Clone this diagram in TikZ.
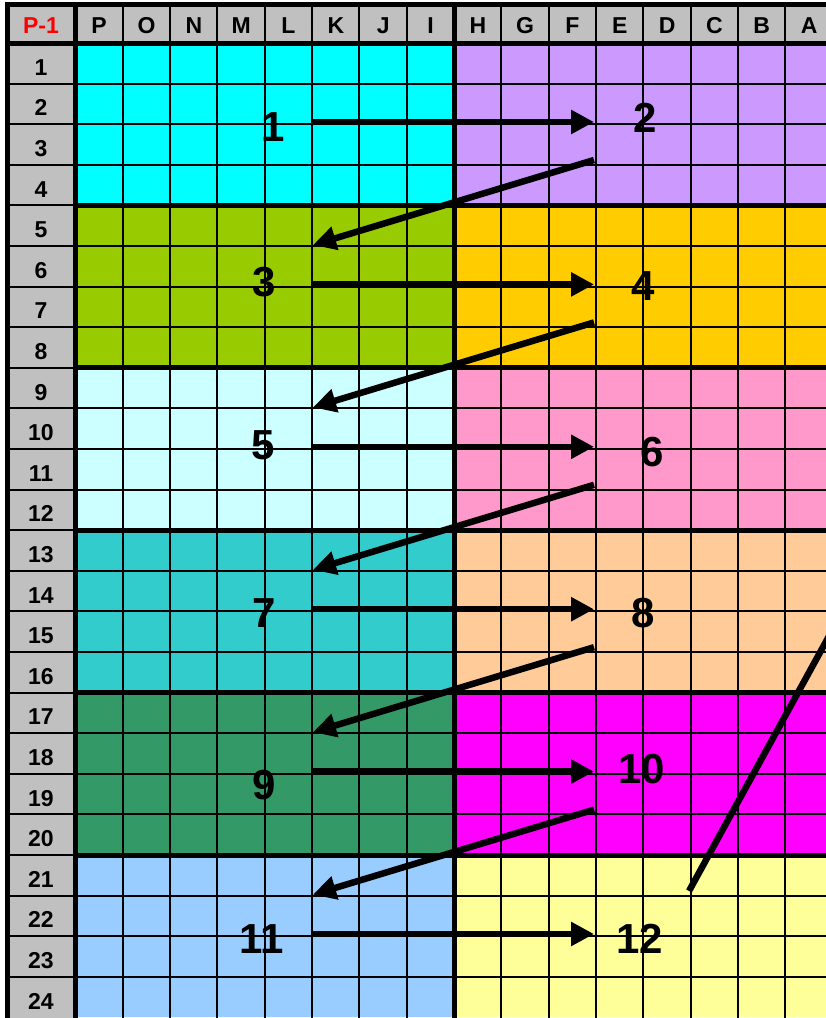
\documentclass[tikz,border=0pt]{standalone}
\usepackage{fontspec}
\setmainfont{Liberation Sans}
\usetikzlibrary{arrows.meta}

\definecolor{cellgray}{HTML}{C0C0C0}
\definecolor{tagred}{HTML}{FF0000}
\definecolor{zoneA}{HTML}{00FFFF}
\definecolor{zoneB}{HTML}{CC99FF}
\definecolor{zoneC}{HTML}{99CC00}
\definecolor{zoneD}{HTML}{FFCC00}
\definecolor{zoneE}{HTML}{CCFFFF}
\definecolor{zoneF}{HTML}{FF99CC}
\definecolor{zoneG}{HTML}{33CCCC}
\definecolor{zoneH}{HTML}{FFCC99}
\definecolor{zoneI}{HTML}{339966}
\definecolor{zoneJ}{HTML}{FF00FF}
\definecolor{zoneK}{HTML}{99CCFF}
\definecolor{zoneL}{HTML}{FFFF99}

\newcommand{\gridx}{75.5}
\newcommand{\gridy}{43}
\newcommand{\cellw}{47.33}
\newcommand{\cellh}{40.6}

\begin{document}
\begin{tikzpicture}[x=1pt, y=-1pt, >={Triangle[length=23pt, width=23pt]},
  head/.style={font=\bfseries\fontsize{23}{23}\selectfont, inner sep=0pt},
  num/.style={font=\bfseries\fontsize{42}{42}\selectfont, inner sep=0pt},
  flow/.style={->, line width=6.5pt},
  thin rule/.style={line width=2pt},
  thick rule/.style={line width=5pt}]
  \useasboundingbox (0,0) rectangle (826,1018);
  \clip (0,0) rectangle (826,1018);

  % gray header row and row column
  \fill[cellgray] (7,4) rectangle (826,\gridy);
  \fill[cellgray] (7,\gridy) rectangle (\gridx,1018);

  % colour zones, four rows each
  \foreach \k/\cl/\cr in {0/zoneA/zoneB, 1/zoneC/zoneD, 2/zoneE/zoneF,
                          3/zoneG/zoneH, 4/zoneI/zoneJ, 5/zoneK/zoneL}
  {
    \fill[\cl] (\gridx,\gridy+4*\k*\cellh) rectangle ++(8*\cellw,4*\cellh);
    \fill[\cr] (\gridx+8*\cellw,\gridy+4*\k*\cellh) rectangle ++(8*\cellw,4*\cellh);
  }

  % grid
  \foreach \i in {1,...,15}
    \draw[thin rule] (\gridx+\i*\cellw,4) -- (\gridx+\i*\cellw,1018);
  \foreach \j in {1,...,23}
    \draw[thin rule] (7,\gridy+\j*\cellh) -- (826,\gridy+\j*\cellh);
  \foreach \j in {4,8,...,20}
    \draw[thick rule] (\gridx,\gridy+\j*\cellh) -- (826,\gridy+\j*\cellh);
  \draw[thick rule] (7,\gridy) -- (826,\gridy);
  \draw[thick rule] (\gridx,4) -- (\gridx,1018);
  \draw[thick rule] (\gridx+8*\cellw,4) -- (\gridx+8*\cellw,1018);
  \draw[line width=5pt] (826,4) -- (7,4) -- (7,1018);

  % headings
  \node[head, text=tagred] (corner) at (41,25.5) {P-1};
  \foreach \l [count=\i] in {P,O,N,M,L,K,J,I,H,G,F,E,D,C,B,A}
    \node[head] (col\l) at (\gridx+\i*\cellw-0.5*\cellw,25.5) {\l};
  \foreach \j in {1,...,24}
    \node[head] (row\j) at (41,\gridy+\j*\cellh-0.5*\cellh+4) {\j};

  % zone numbers
  \foreach \n/\x/\y in {1/273/127, 2/645/118, 3/264/282, 4/643/286,
                        5/263/445, 6/652/452, 7/264/613, 8/643/613,
                        9/264/785, 10/642/769, 11/262/939, 12/640/939}
    \node[num] (n\n) at (\x,\y) {\n};

  % order of the zones
  \foreach \k in {0,...,5}
  {
    \coordinate (go\k) at (313,122+162.4*\k);
    \coordinate (to\k) at (594,122+162.4*\k);
    \draw[flow] (go\k) -- (to\k);
  }
  \foreach \k in {0,...,4}
  {
    \coordinate (up\k) at (594,160+162.4*\k);
    \coordinate (dn\k) at (313,245+162.4*\k);
    \draw[flow] (up\k) -- (dn\k);
  }
  \coordinate (tail) at (689,891);
  \coordinate (offpage) at (851,596);
  \draw[line width=6.5pt] (tail) -- (offpage);
\end{tikzpicture}
\end{document}
